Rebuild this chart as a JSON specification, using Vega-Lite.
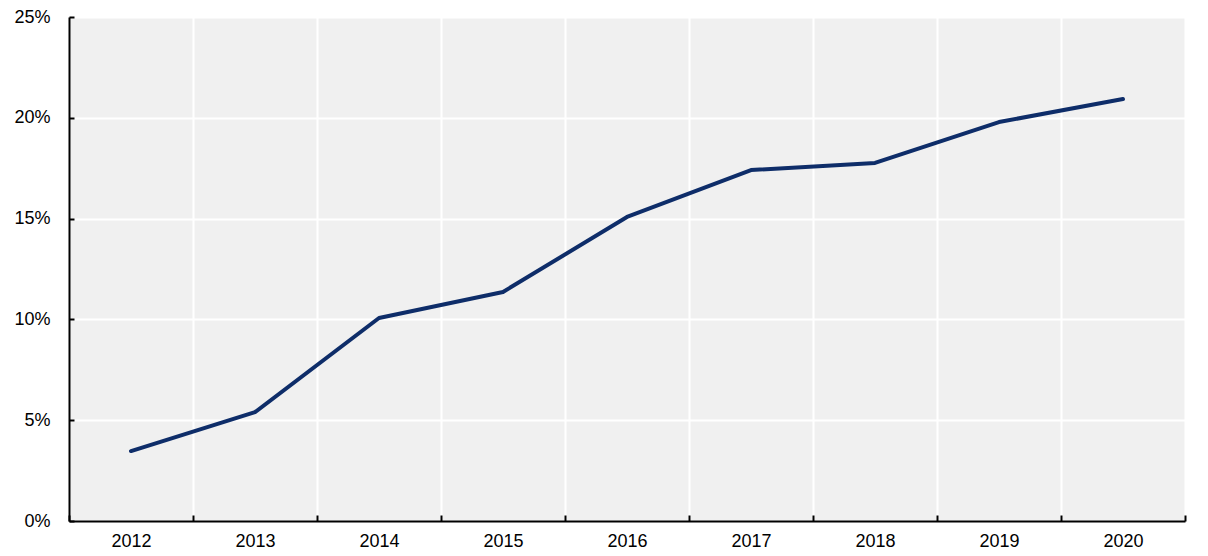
{
  "$schema": "https://vega.github.io/schema/vega-lite/v6.json",
  "width": 1116,
  "height": 504,
  "autosize": "none",
  "padding": {"left": 69, "top": 17, "right": 23, "bottom": 35},
  "background": "white",
  "data": {
    "values": [
      {"year": "2012", "share": 0.0347},
      {"year": "2013", "share": 0.054},
      {"year": "2014", "share": 0.1007},
      {"year": "2015", "share": 0.1136},
      {"year": "2016", "share": 0.1508},
      {"year": "2017", "share": 0.1741},
      {"year": "2018", "share": 0.1776},
      {"year": "2019", "share": 0.1979},
      {"year": "2020", "share": 0.2093}
    ]
  },
  "mark": {"type": "line", "color": "#0e2d69", "strokeWidth": 4, "strokeCap": "round", "strokeJoin": "round"},
  "encoding": {
    "x": {
      "field": "year",
      "type": "ordinal",
      "title": null,
      "scale": {"type": "band", "paddingInner": 0, "paddingOuter": 0},
      "axis": {
        "tickBand": "extent",
        "labelAngle": 0,
        "labelPadding": 17,
        "tickSize": -6,
        "grid": true
      }
    },
    "y": {
      "field": "share",
      "type": "quantitative",
      "title": null,
      "scale": {"domain": [0, 0.25]},
      "axis": {
        "format": ".0%",
        "values": [0, 0.05, 0.1, 0.15, 0.2, 0.25],
        "tickSize": -5,
        "labelPadding": 24
      }
    }
  },
  "config": {
    "view": {"fill": "#f0f0f0", "stroke": null},
    "axis": {
      "domainColor": "#000000",
      "domainWidth": 2,
      "tickColor": "#000000",
      "tickWidth": 2,
      "gridColor": "#ffffff",
      "gridWidth": 2,
      "gridOpacity": 1,
      "labelFont": "Liberation Sans",
      "labelFontSize": 18,
      "labelColor": "#000000"
    }
  }
}
